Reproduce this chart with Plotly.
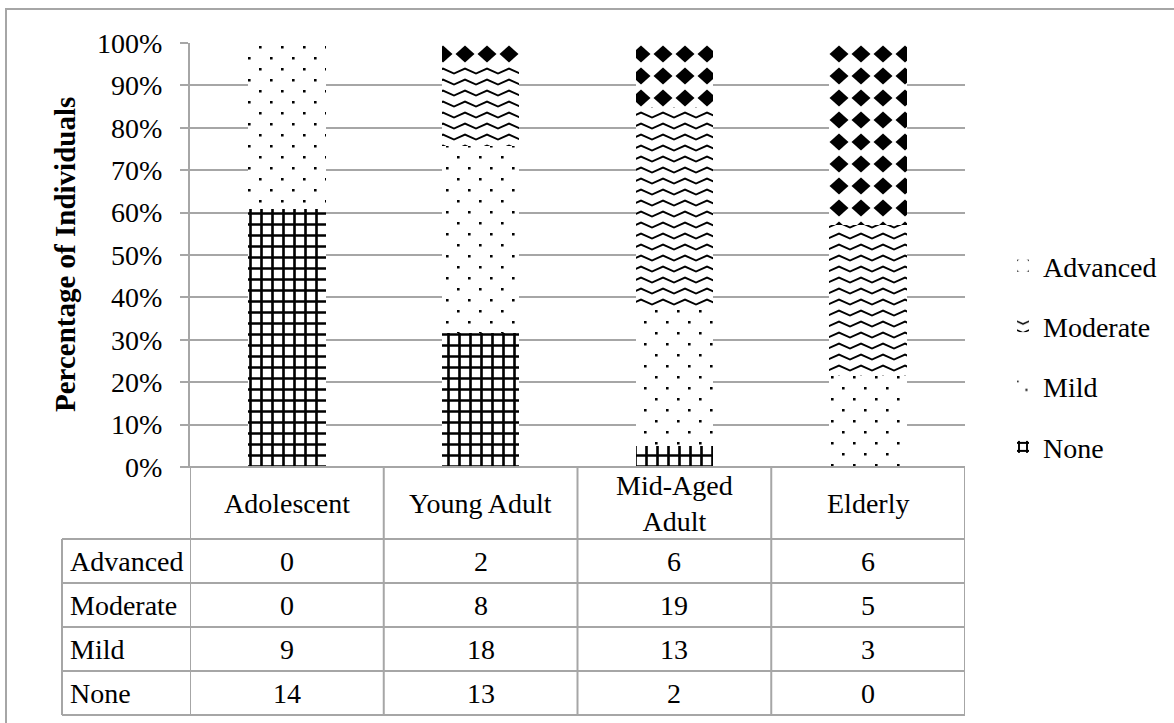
import plotly.graph_objects as go

# ---- data ---------------------------------------------------------------
categories = ["Adolescent", "Young Adult", "Mid-Aged Adult", "Elderly"]
header_labels = ["Adolescent", "Young Adult", "Mid-Aged<br>Adult", "Elderly"]
none_counts = [14, 13, 2, 0]
mild_counts = [9, 18, 13, 3]
moderate_counts = [0, 8, 19, 5]
advanced_counts = [0, 2, 6, 6]
y_tick_values = [i / 10 for i in range(11)]

# ---- page geometry (pixels) -------------------------------------------
W, H = 1174, 723
ML, MR, MT, MB = 190, 209, 43, 256
PLOT_W = W - ML - MR
PLOT_H = H - MT - MB
FONT = "Liberation Serif"
FS = 28
GRID = "#a6a6a6"


def px_x(px):
    return (px - ML) / PLOT_W


def px_y(py):
    return (H - MB - py) / PLOT_H


# name, counts, uid (used to find the fill tile), legend rank, base pattern
series = [
    ("None", none_counts, "pat-none", 4, dict(shape="+", size=11, solidity=0.42)),
    ("Mild", mild_counts, "pat-mild", 3, dict(shape=".", size=15, solidity=0.03)),
    ("Moderate", moderate_counts, "pat-moderate", 2, dict(shape="x", size=11, solidity=0.2)),
    ("Advanced", advanced_counts, "pat-advanced", 1, dict(shape=".", size=22, solidity=0.3)),
]

fig = go.Figure()
for name, counts, uid, rank, pat in series:
    fig.add_trace(go.Bar(
        x=categories, y=counts, name=name, legendgroup=name, uid=uid,
        legendrank=rank,
        marker=dict(
            color="white",
            line=dict(width=0),
            pattern=dict(fgcolor="black", bgcolor="white", fgopacity=1,
                         fillmode="replace", **pat),
        ),
        hoverinfo="skip",
    ))

# ---- data table under the plot ----------------------------------------
header_top, header_bottom = H - MB, 539
row_h = 44
row_names = ["Advanced", "Moderate", "Mild", "None"]
row_values = [advanced_counts, moderate_counts, mild_counts, none_counts]
table_bottom = header_bottom + row_h * len(row_names)
label_left = 62

line_style = dict(color=GRID, width=2)
shapes = []
# outer frame of the figure
shapes.append(dict(type="rect", xref="paper", yref="paper",
                   x0=px_x(6), x1=px_x(W + 10), y0=px_y(H + 10), y1=px_y(9),
                   line=line_style, layer="below"))
# column separators
for i in range(len(categories) + 1):
    shapes.append(dict(type="line", xref="x", yref="paper",
                       x0=i - 0.5, x1=i - 0.5,
                       y0=px_y(header_top), y1=px_y(table_bottom),
                       line=line_style))
# left edge of the row-label column
shapes.append(dict(type="line", xref="paper", yref="paper",
                   x0=px_x(label_left), x1=px_x(label_left),
                   y0=px_y(header_bottom), y1=px_y(table_bottom),
                   line=line_style))
# horizontal rules
for k in range(len(row_names) + 1):
    yy = px_y(header_bottom + k * row_h)
    shapes.append(dict(type="line", xref="paper", yref="paper",
                       x0=px_x(label_left), x1=1, y0=yy, y1=yy,
                       line=line_style))
shapes.append(dict(type="line", xref="paper", yref="paper",
                   x0=px_x(182), x1=1, y0=0, y1=0, line=line_style))

annotations = []
for cat, lab in zip(categories, header_labels):
    annotations.append(dict(x=cat, xref="x", y=px_y((header_top + header_bottom) / 2),
                            yref="paper", text=lab, showarrow=False,
                            font=dict(family=FONT, size=FS, color="black"),
                            xanchor="center", yanchor="middle"))
for r, (rname, vals) in enumerate(zip(row_names, row_values)):
    yc = px_y(header_bottom + r * row_h + row_h / 2)
    annotations.append(dict(x=px_x(label_left + 6), xref="paper", y=yc, yref="paper",
                            text=rname, showarrow=False, xanchor="left",
                            yanchor="middle",
                            font=dict(family=FONT, size=FS, color="black")))
    for cat, v in zip(categories, vals):
        annotations.append(dict(x=cat, xref="x", y=yc, yref="paper", text=str(v),
                                showarrow=False, xanchor="center", yanchor="middle",
                                font=dict(family=FONT, size=FS, color="black")))

# y axis title
annotations.append(dict(x=px_x(65), xref="paper", y=0.5, yref="paper",
                        text="<b>Percentage of Individuals</b>", textangle=-90,
                        showarrow=False, xanchor="center", yanchor="middle",
                        font=dict(family=FONT, size=29, color="black")))

fig.update_layout(
    width=W, height=H,
    margin=dict(l=ML, r=MR, t=MT, b=MB, pad=0),
    barmode="stack", barnorm="fraction", bargap=0.6,
    plot_bgcolor="white", paper_bgcolor="white",
    font=dict(family=FONT, size=FS, color="black"),
    xaxis=dict(range=[-0.5, len(categories) - 0.5], showticklabels=False,
               showgrid=False, zeroline=False, showline=False, ticks=""),
    yaxis=dict(range=[0, 1], tickvals=y_tick_values, tickformat=".0%",
               showgrid=True, gridcolor=GRID, gridwidth=2,
               showline=True, linecolor=GRID, linewidth=2,
               ticks="outside", ticklen=8, tickcolor=GRID, tickwidth=2,
               zeroline=False, ticklabelstandoff=12,
               tickfont=dict(family=FONT, size=FS, color="black")),
    legend=dict(x=px_x(1003), xanchor="left", y=px_y(241), yanchor="top",
                traceorder="grouped", tracegroupgap=21,
                font=dict(family=FONT, size=FS, color="black"),
                bgcolor="rgba(0,0,0,0)", borderwidth=0),
    shapes=shapes,
    annotations=annotations,
    showlegend=True,
)

# Fill tiles drawn in SVG: staggered dots, zigzag waves and diamonds.
tile_script = """
var gd = document.getElementById('{plot_id}');
var NS = 'http://www.w3.org/2000/svg';
var tiles = {
  'pat-mild': {w: 22, h: 22, fill: 'M3,3h2.6v2.6h-2.6zM14,14h2.6v2.6h-2.6z', stroke: ''},
  'pat-moderate': {w: 22, h: 11, fill: '',
                   stroke: 'M-11,3.5L0,8.5L11,3.5L22,8.5L33,3.5'},
  'pat-advanced': {w: 22, h: 22, fill: 'M11,2.5L20.5,11L11,19.5L1.5,11Z', stroke: ''}
};
function applyTiles() {
  var pats = gd.querySelectorAll('pattern');
  pats.forEach(function(p) {
    Object.keys(tiles).forEach(function(key) {
      if (p.id.indexOf(key) < 0 || p.getAttribute('data-tile') === key) return;
      var t = tiles[key];
      while (p.firstChild) p.removeChild(p.firstChild);
      p.setAttribute('width', t.w);
      p.setAttribute('height', t.h);
      p.setAttribute('data-tile', key);
      var bg = document.createElementNS(NS, 'rect');
      bg.setAttribute('width', t.w); bg.setAttribute('height', t.h);
      bg.setAttribute('fill', 'white');
      p.appendChild(bg);
      if (t.fill) {
        var f = document.createElementNS(NS, 'path');
        f.setAttribute('d', t.fill); f.setAttribute('fill', 'black');
        p.appendChild(f);
      }
      if (t.stroke) {
        var s = document.createElementNS(NS, 'path');
        s.setAttribute('d', t.stroke); s.setAttribute('fill', 'none');
        s.setAttribute('stroke', 'black'); s.setAttribute('stroke-width', '2');
        p.appendChild(s);
      }
    });
  });
}
applyTiles();
gd.on('plotly_afterplot', applyTiles);
"""

fig.write_html("out.html", post_script=tile_script)
